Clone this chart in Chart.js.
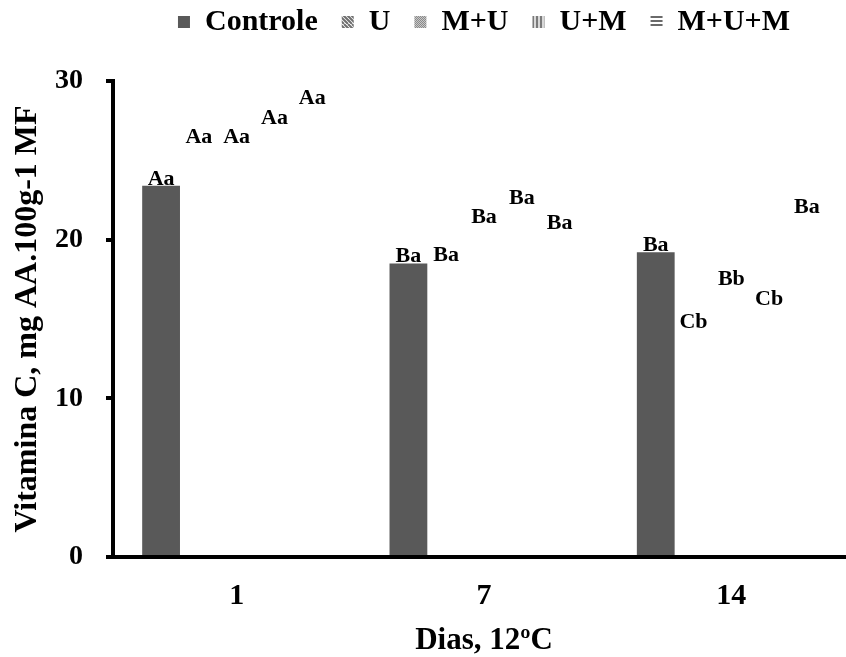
<!DOCTYPE html>
<html><head><meta charset="utf-8">
<script src="https://cdn.jsdelivr.net/npm/chart.js@4"></script>
<style>
html,body{margin:0;padding:0;background:#fff;overflow:hidden}
#wrap{width:846px;height:657px;overflow:hidden;position:relative;background:#fff}
#c{position:absolute;left:0;top:0}
</style></head>
<body><div id="wrap"><canvas id="c" width="866" height="657" style="width:866px;height:657px"></canvas></div>
<script>
const categories = ['1', '7', '14'];
const seriesNames = ['Controle', 'U', 'M+U', 'U+M', 'M+U+M'];
const controle = [23.4, 18.5, 19.2];
const u = [26.0, 18.6, 14.4];
const mu = [26.0, 21.0, 17.1];
const um = [27.2, 22.2, 15.8];
const mum = [28.5, 20.6, 21.6];
const lettersControle = ['Aa', 'Ba', 'Ba'];
const lettersU = ['Aa', 'Ba', 'Cb'];
const lettersMU = ['Aa', 'Ba', 'Bb'];
const lettersUM = ['Aa', 'Ba', 'Cb'];
const lettersMUM = ['Aa', 'Ba', 'Ba'];
const yTicks = [0, 10, 20, 30];

const FONT = '"Liberation Serif", "Times New Roman", serif';

function pattern(draw, w, h) {
  const c = document.createElement('canvas');
  c.width = w; c.height = h;
  const g = c.getContext('2d');
  g.fillStyle = '#fff'; g.fillRect(0, 0, w, h);
  draw(g);
  return g.createPattern(c, 'repeat');
}
const ctx0 = document.getElementById('c').getContext('2d');
const fillU = pattern(g => {
  g.strokeStyle = '#6e6e6e'; g.lineWidth = 2;
  for (let k = -12; k < 24; k += 4) { g.beginPath(); g.moveTo(k, 0); g.lineTo(k + 12, 12); g.stroke(); }
}, 12, 12);
const fillMU = pattern(g => {
  for (let x = 0; x < 4; x++) for (let y = 0; y < 4; y++) {
    g.fillStyle = ((x + y) % 2) ? '#c8c8c8' : '#8a8a8a'; g.fillRect(x, y, 1, 1);
  }
}, 4, 4);
const fillUM = pattern(g => {
  g.fillStyle = '#7a7a7a'; g.fillRect(0, 0, 2, 4);
  g.fillStyle = '#d8d8d8'; g.fillRect(2, 0, 2, 4);
}, 4, 4);
const fillMUM = pattern(g => {
  g.fillStyle = '#6a6a6a'; g.fillRect(0, 0, 4, 2);
  g.fillStyle = '#ffffff'; g.fillRect(0, 2, 4, 2);
}, 4, 4);
const legendFills = ['#595959', fillU, fillMU, fillUM, fillMUM];
const seriesValues = [controle, u, mu, um, mum];
const seriesLetters = [lettersControle, lettersU, lettersMU, lettersUM, lettersMUM];
const barColors = ['#595959', 'rgba(255,255,255,0)', 'rgba(255,255,255,0)', 'rgba(255,255,255,0)', 'rgba(255,255,255,0)'];

const letterPlugin = {
  id: 'letters',
  afterDatasetsDraw(chart) {
    const ctx = chart.ctx;
    ctx.save();
    ctx.font = 'bold 22px ' + FONT;
    ctx.fillStyle = '#000';
    ctx.textAlign = 'center';
    ctx.textBaseline = 'alphabetic';
    chart.data.datasets.forEach((ds, i) => {
      const meta = chart.getDatasetMeta(i);
      meta.data.forEach((bar, j) => {
        ctx.fillText(seriesLetters[i][j], bar.x, bar.y - 1);
      });
    });
    ctx.restore();
  }
};

new Chart(ctx0, {
  type: 'bar',
  data: {
    labels: categories,
    datasets: seriesNames.map((name, i) => ({
      label: name,
      data: seriesValues[i],
      backgroundColor: barColors[i],
      borderWidth: 0,
      categoryPercentage: 0.764,
      barPercentage: 1.0
    }))
  },
  options: {
    responsive: false,
    animation: false,
    layout: { padding: { top: -17, left: 9, right: 11, bottom: -3 } },
    plugins: {
      tooltip: { enabled: false },
      legend: {
        position: 'top',
        fullSize: false,
        labels: {
          color: '#000',
          font: { family: FONT, size: 30, weight: 'bold' },
          boxWidth: 12,
          boxHeight: 12,
          padding: 24,
          generateLabels(chart) {
            return chart.data.datasets.map((ds, i) => ({
              text: ds.label,
              fillStyle: legendFills[i],
              strokeStyle: 'rgba(0,0,0,0)',
              lineWidth: 0,
              hidden: false,
              datasetIndex: i,
              fontColor: '#000'
            }));
          }
        }
      },
      subtitle: {
        display: true,
        text: '',
        weight: 500,
        font: { size: 1, lineHeight: 1 },
        padding: { top: 33, bottom: 0 }
      }
    },
    scales: {
      x: {
        afterFit(scale) { scale.height = 103; },
        grid: { display: false, drawTicks: false },
        border: { display: true, color: '#000', width: 4 },
        ticks: { color: '#000', font: { family: FONT, size: 30, weight: 'bold' }, padding: 21 },
        title: { display: true, text: 'Dias, 12ºC', color: '#000', font: { family: FONT, size: 31, weight: 'bold' }, padding: { top: 10, bottom: 0 } }
      },
      y: {
        min: 0, max: 30,
        afterFit(scale) { scale.width = 104; },
        afterBuildTicks(scale) { scale.ticks = yTicks.map(v => ({ value: v })); },
        grid: { drawOnChartArea: false, drawTicks: true, tickLength: 7, color: '#000', lineWidth: 4 },
        border: { display: true, color: '#000', width: 4 },
        ticks: { color: '#000', font: { family: FONT, size: 28, weight: 'bold' }, padding: 23 },
        title: { display: true, text: 'Vitamina C, mg AA.100g-1 MF', color: '#000', font: { family: FONT, size: 32, weight: 'bold' }, padding: { top: 0, bottom: 9 } }
      }
    }
  },
  plugins: [letterPlugin]
});
</script>
</body></html>
